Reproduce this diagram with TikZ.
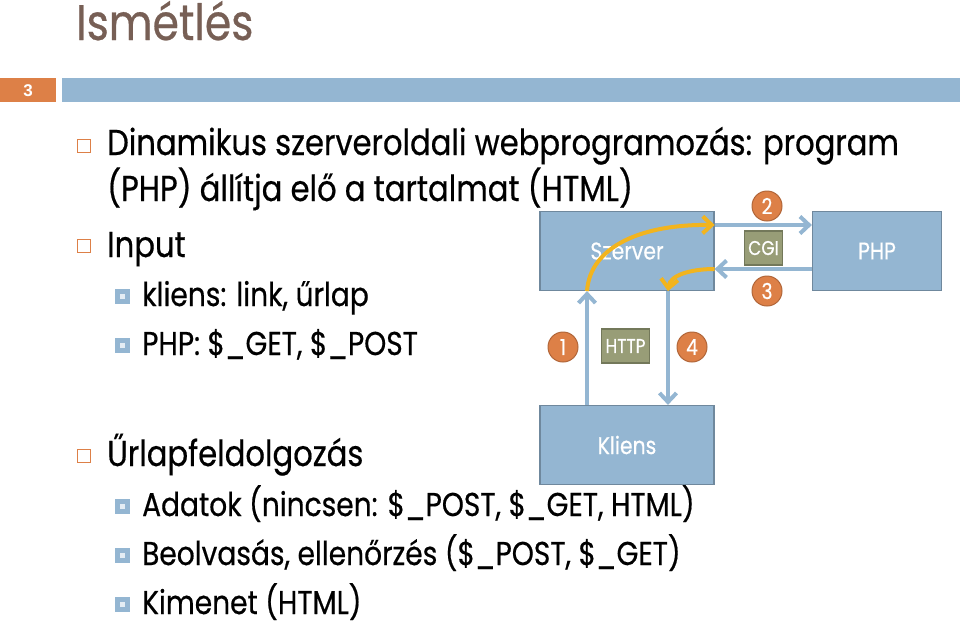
\documentclass[tikz,border=0pt]{standalone}
\usepackage{fontspec}
\setmainfont{Poppins}[FakeStretch=0.85, FakeBold=0.5]
\newfontfamily\numfont{Liberation Sans}
\usetikzlibrary{arrows.meta, positioning, calc}
\definecolor{TitleC}{HTML}{775F55}
\definecolor{AccentA}{HTML}{94B6D2}
\definecolor{AccentB}{HTML}{DD8047}
\definecolor{AccentC}{HTML}{A5AB81}
\definecolor{FlowY}{HTML}{F2B41E}
\tikzset{
  lone/.style={anchor=base west, inner sep=0pt, font=\fontsize{36}{40}\selectfont},
  ltwo/.style={anchor=base west, inner sep=0pt, font=\fontsize{33}{36}\selectfont},
  obul/.style={draw=AccentB, line width=1.3pt, minimum size=13pt, inner sep=0pt},
  sbul/.style={draw=AccentA, fill=AccentA!25, line width=5pt, minimum size=10pt, inner sep=0pt},
  bbox/.style={draw=AccentA!75!black, line width=1.2pt, fill=AccentA, text=white,
    minimum width=174pt, minimum height=79pt, font=\fontsize{24}{26}\selectfont},
  gbox/.style={draw=AccentC!70!black, line width=1.2pt, fill=AccentC!92!black, text=white,
    minimum height=34pt, inner xsep=4pt, font=\fontsize{20}{22}\selectfont},
  num/.style={circle, draw=AccentB!80!black, line width=1pt, fill=AccentB, text=white,
    minimum size=30pt, inner sep=0pt, font=\fontsize{22}{24}\selectfont},
  flow/.style={-{Straight Barb[length=9pt, width=17pt]}, line width=4pt, draw=AccentA},
  flowy/.style={-{Straight Barb[length=9pt, width=17pt]}, line width=4pt, draw=FlowY},
}
\begin{document}
\begin{tikzpicture}[x=1pt, y=-1pt]
  \useasboundingbox (0,0) rectangle (960,625);
  % title and bar
  \node[anchor=base west, inner sep=0pt, text=TitleC, font=\fontsize{50}{56}\selectfont] (title) at (76,40) {Ismétlés};
  \node[fill=AccentB, minimum width=56pt, minimum height=24pt, inner sep=0pt, anchor=north west,
    text=white, font=\numfont\bfseries\fontsize{17}{18}\selectfont] (pnum) at (0,78) {3};
  \node[fill=AccentA, minimum width=898pt, minimum height=24pt, inner sep=0pt, anchor=north west] (bar) at (62,78) {};

  % list
  \node[obul] (b1) at (84,146) {};
  \node[lone] (t1) at (107,155) {Dinamikus szerveroldali webprogramozás: program};
  \node[lone] (t1b) at (107,201) {(PHP) állítja elő a tartalmat (HTML)};
  \node[obul] (b2) at (84,246) {};
  \node[lone] (t2) at (107,257) {Input};
  \node[sbul] (b21) at (122.5,296) {};
  \node[ltwo] (t21) at (142,306) {kliens: link, űrlap};
  \node[sbul] (b22) at (122.5,345) {};
  \node[ltwo] (t22) at (142,355) {PHP: \$\_GET, \$\_POST};
  \node[obul] (b3) at (84,456) {};
  \node[lone] (t3) at (107,466) {Űrlapfeldolgozás};
  \node[sbul] (b31) at (122.5,506) {};
  \node[ltwo] (t31) at (142,516) {Adatok (nincsen: \$\_POST, \$\_GET, HTML)};
  \node[sbul] (b32) at (122.5,555) {};
  \node[ltwo] (t32) at (142,565) {Beolvasás, ellenőrzés (\$\_POST, \$\_GET)};
  \node[sbul] (b33) at (122.5,604) {};
  \node[ltwo] (t33) at (142,614) {Kimenet (HTML)};

  % diagram
  \node[bbox] (szerver) at (627,251) {Szerver};
  \node[bbox, minimum width=129pt] (php) at (877,251) {PHP};
  \node[bbox] (kliens) at (627,445) {Kliens};
  \node[gbox] (cgi) at (763.5,248) {CGI};
  \node[gbox] (http) at (625.5,346) {HTTP};
  \node[num] (n2) at (767,206) {2};
  \node[num] (n3) at (767,291) {3};
  \node[num] (n1) at (563,347) {1};
  \node[num] (n4) at (692,347) {4};

  \draw[flow] ([xshift=-40pt]kliens.north) -- ([xshift=-40pt]szerver.south);
  \draw[flow] ([xshift=41pt]szerver.south) -- ([xshift=41pt]kliens.north);
  \draw[flow] ([yshift=26pt]szerver.east) -- ([yshift=26pt]php.west);
  \draw[flow] ([yshift=-18pt]php.west) -- ([yshift=-18pt]szerver.east);
  \draw[flowy] ([xshift=-40pt]szerver.south) .. controls +(3,-45) and +(-72,-1) .. ([yshift=26pt]szerver.east);
  \draw[flowy] ([yshift=-18pt]szerver.east) .. controls +(-24,0) and +(2,-16) .. ([xshift=41pt]szerver.south);
\end{tikzpicture}
\end{document}
